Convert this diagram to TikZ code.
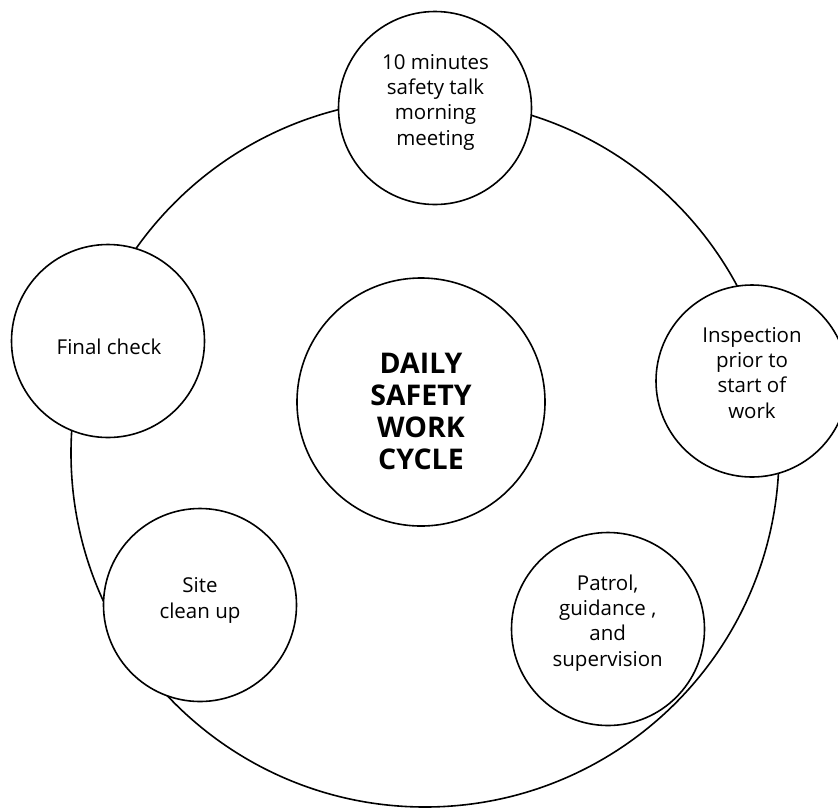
\documentclass[tikz,border=0pt]{standalone}
\usepackage{fontspec}
\setmainfont{Open Sans}
\newcommand{\mlines}[1]{\begin{tabular}[t]{@{}c@{}}#1\end{tabular}}
\begin{document}
\begin{tikzpicture}[x=1pt,y=-1pt,
  ring/.style={circle, draw, line width=1.6pt, fill=white, inner sep=0pt, minimum size=#1},
  lbl/.style={anchor=base, inner sep=0pt, font=\fontsize{20.5}{25.4}\selectfont},
  hub/.style={anchor=base, inner sep=0pt, font=\fontsize{28.5}{32}\selectfont\bfseries}]
\useasboundingbox (0,0) rectangle (838,807);
\node[ring=708pt, fill=none] (big) at (425,453) {};
\node[ring=193pt] (c1) at (435,108) {};
\node[ring=192pt] (c2) at (752,381) {};
\node[ring=193pt] (c3) at (608,629) {};
\node[ring=193pt] (c4) at (200,605) {};
\node[ring=193pt] (c5) at (108,341) {};
\node[ring=248pt] (hubc) at (421,402) {};
\node[lbl] (t1) at (435.5,69) {\mlines{10 minutes\\safety talk\\morning\\meeting}};
\node[lbl] (t2) at (752,342) {\mlines{Inspection\\prior to\\start of\\work}};
\node[lbl] (t3) at (607.7,590) {\mlines{Patrol,\\guidance ,\\and\\supervision}};
\node[lbl] (t4) at (200,592.7) {\mlines{Site\\clean up}};
\node[lbl] (t5) at (109,354) {Final check};
\node[hub] (th) at (421,373) {\mlines{DAILY\\SAFETY\\WORK\\CYCLE}};
\end{tikzpicture}
\end{document}
